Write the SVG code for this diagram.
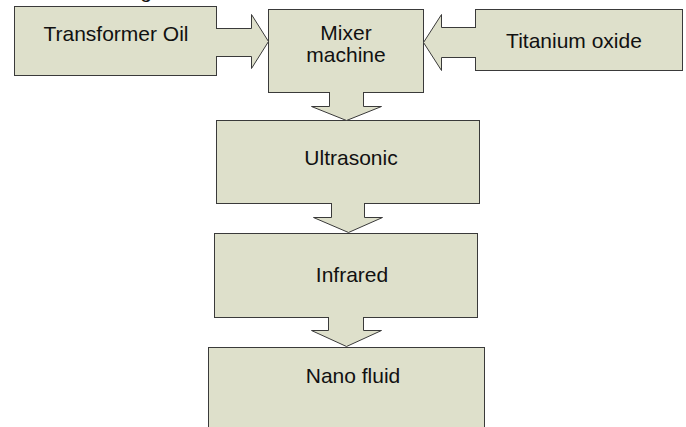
<svg xmlns="http://www.w3.org/2000/svg" width="686" height="427" viewBox="0 0 686 427">
<style>
.box{fill:#dee0cb;stroke:#3a3a3a;stroke-width:1}
.arr{fill:#dee0cb;stroke:#3a3a3a;stroke-width:1;stroke-linejoin:miter}
.t{font-family:"Liberation Sans",Arial,sans-serif;font-size:21px;fill:#111111;text-anchor:middle}
</style>
<rect width="686" height="427" fill="#ffffff"/>
<text class="t" x="146" y="-2">g</text>
<g id="transformer-oil">
<rect class="box" x="14.5" y="6.5" width="202" height="69"/>
<text class="t" x="116" y="41">Transformer Oil</text>
</g>
<g id="mixer-machine">
<rect class="box" x="268.5" y="9.5" width="155" height="83"/>
<text class="t" x="346" y="40">Mixer</text>
<text class="t" x="346" y="62">machine</text>
</g>
<g id="titanium-oxide">
<rect class="box" x="475.5" y="9.5" width="207" height="61"/>
<text class="t" x="574" y="48">Titanium oxide</text>
</g>
<g id="ultrasonic">
<rect class="box" x="216.5" y="120.5" width="263" height="83"/>
<text class="t" x="351" y="165">Ultrasonic</text>
</g>
<g id="infrared">
<rect class="box" x="214.5" y="233.5" width="263" height="84"/>
<text class="t" x="352" y="282">Infrared</text>
</g>
<g id="nano-fluid">
<rect class="box" x="208.5" y="347.5" width="276" height="100"/>
<text class="t" x="353" y="383">Nano fluid</text>
</g>
<g id="connectors">
<path class="arr" d="M216,28.5 H251.5 V14.5 L268.5,41.5 L251.5,68.5 V56.5 H216"/>
<path class="arr" d="M476,27.5 H441.5 V14.5 L423.5,42.5 L441.5,70.5 V57.5 H476"/>
<path class="arr" d="M329.5,92 V106.5 H311.5 L346.5,120.5 L381.5,106.5 H363.5 V92"/>
<path class="arr" d="M331.5,203 V217.5 H313.5 L348.5,232.5 L382.5,217.5 H364.5 V203"/>
<path class="arr" d="M328.5,317 V330.5 H311.5 L346.5,346.5 L381.5,330.5 H363.5 V317"/>
</g>
</svg>
